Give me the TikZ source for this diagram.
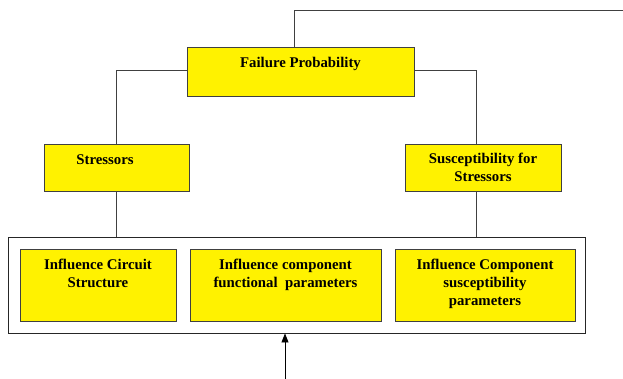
\documentclass[tikz,border=0pt]{standalone}
\usepackage{fontspec}
\setmainfont{Liberation Serif}
\usetikzlibrary{arrows.meta}
\begin{document}
\begin{tikzpicture}[x=1pt,y=-1pt,
  ybox/.style={draw=black!75, fill=yellow, line width=0.9pt, rectangle, inner sep=0pt},
  frame/.style={draw=black!85, line width=0.9pt, rectangle, inner sep=0pt},
  txt/.style={font=\bfseries\fontsize{14.8}{18}\selectfont, align=center, inner sep=0pt, anchor=base},
  conn/.style={draw=black!75, line width=0.9pt}]
\useasboundingbox (0,0) rectangle (623,379);
% boxes
\node[ybox, minimum width=227pt, minimum height=49pt] (fp) at (300.5,71.5) {};
\node[ybox, minimum width=145pt, minimum height=47pt] (st) at (116.5,167.5) {};
\node[ybox, minimum width=156pt, minimum height=47pt] (su) at (483,167.5) {};
\node[frame, minimum width=577pt, minimum height=96pt] (fr) at (296.5,285) {};
\node[ybox, minimum width=156pt, minimum height=72pt] (b1) at (98,285) {};
\node[ybox, minimum width=191pt, minimum height=72pt] (b2) at (285.5,285) {};
\node[ybox, minimum width=180pt, minimum height=72pt] (b3) at (485,285) {};
% texts (anchor = baseline of last line)
\node[txt] (tfp) at (300.5,68) {Failure Probability};
\node[txt] (tst) at (105,165) {Stressors};
\node[txt] (tsu) at (483,182) {Susceptibility for\\Stressors};
\node[txt] (t1) at (98,287) {Influence Circuit\\Structure};
\node[txt] (t2) at (285.5,287) {Influence component\\functional~ parameters};
\node[txt] (t3) at (485,305) {Influence Component\\susceptibility\\parameters};
% connectors
\coordinate (topend) at (623,10);
\coordinate (arrstart) at (285,379);
\draw[conn] (fp.north -| 294,0) |- (topend);
\draw[conn] (fp.west |- 0,70) -| (st.north);
\draw[conn] (fp.east |- 0,70) -| (su.north -| 476,0);
\draw[conn] (st.south) -- (st.south |- fr.north);
\draw[conn] (su.south -| 476,0) -- (fr.north -| 476,0);
\draw[conn, draw=black, -{Triangle[length=9pt,width=7pt]}] (arrstart) -- (arrstart |- fr.south);
\end{tikzpicture}
\end{document}
